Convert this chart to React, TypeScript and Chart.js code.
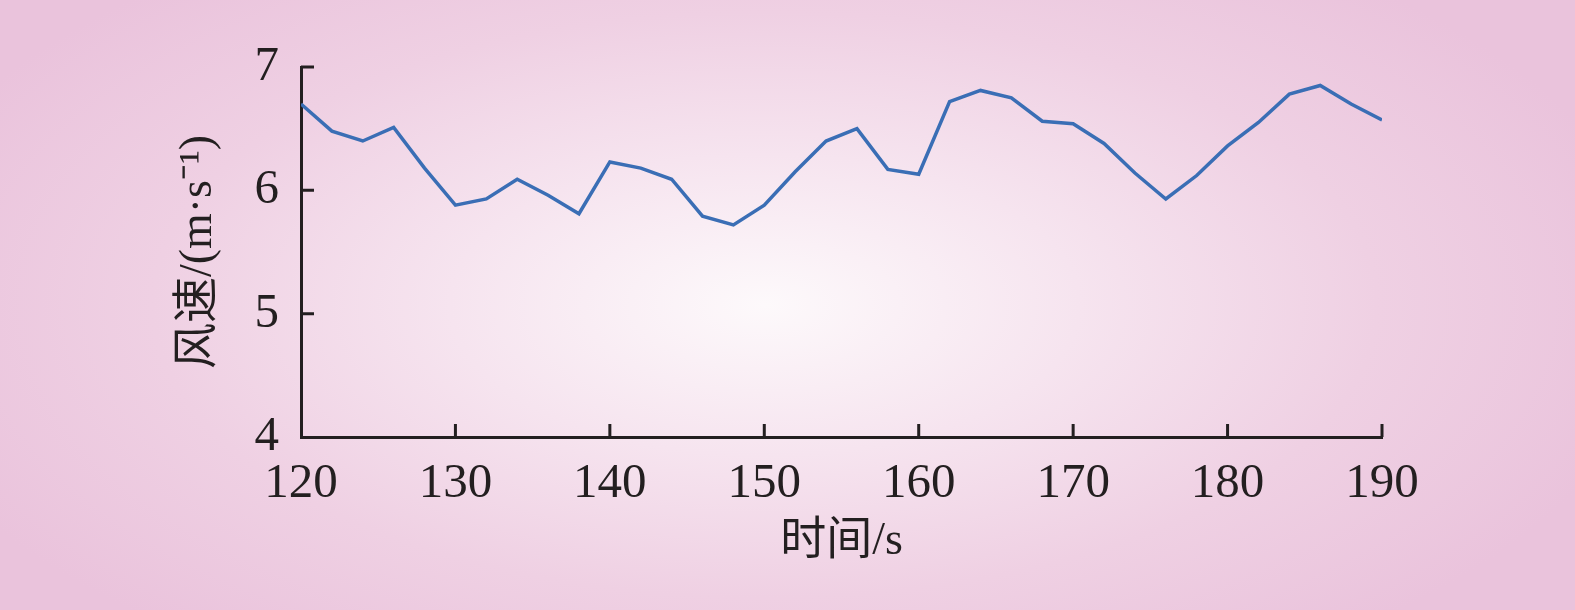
import React, { useEffect, useRef } from "react";
import { Chart, registerables } from "chart.js";

Chart.register(...registerables);

// Time (s)
const times = [
  120, 122, 124, 126, 128, 130, 132, 134, 136, 138, 140, 142,
  144, 146, 148, 150, 152, 154, 156, 158, 160, 162, 164, 166,
  168, 170, 172, 174, 176, 178, 180, 182, 184, 186, 188, 190,
];

// Wind speed (m·s⁻¹)
const windSpeed = [
  6.70, 6.48, 6.40, 6.51, 6.18, 5.88, 5.93, 6.09, 5.96, 5.81, 6.23, 6.18,
  6.09, 5.79, 5.72, 5.88, 6.15, 6.40, 6.50, 6.17, 6.13, 6.72, 6.81, 6.75,
  6.56, 6.54, 6.38, 6.14, 5.93, 6.12, 6.36, 6.55, 6.78, 6.85, 6.70, 6.57,
];

const xTicks = [120, 130, 140, 150, 160, 170, 180, 190];
const yTicks = [4, 5, 6, 7];

const xTitle = "时间/s";
const yTitle = "风速/(m·s⁻¹)";

const AXIS_COLOR = "#231f20";
const LINE_COLOR = "#3a6eb5";
const TICK_FONT = { family: "'Liberation Serif', 'Times New Roman', serif", size: 49 };
const TITLE_FONT = { family: "'Liberation Serif', 'Noto Sans CJK SC', serif", size: 46 };

const inwardTicks = {
  id: "inwardTicks",
  afterDraw(chart: any) {
    const { ctx, chartArea, scales } = chart;
    const x = scales.x;
    const y = scales.y;
    ctx.save();
    ctx.strokeStyle = AXIS_COLOR;
    ctx.lineWidth = 3;
    ctx.beginPath();
    yTicks.forEach((v) => {
      if (v === yTicks[0]) return;
      const py = y.getPixelForValue(v);
      ctx.moveTo(chartArea.left, py);
      ctx.lineTo(chartArea.left + 13, py);
    });
    xTicks.forEach((v) => {
      if (v === xTicks[0]) return;
      const px = x.getPixelForValue(v);
      ctx.moveTo(px, chartArea.bottom);
      ctx.lineTo(px, chartArea.bottom - 13);
    });
    ctx.stroke();
    ctx.restore();
  },
};

export default function App() {
  const canvasRef = useRef<HTMLCanvasElement | null>(null);

  useEffect(() => {
    if (!canvasRef.current) return;
    const chart = new Chart(canvasRef.current, {
      type: "line",
      data: {
        datasets: [
          {
            data: times.map((t, i) => ({ x: t, y: windSpeed[i] })),
            borderColor: LINE_COLOR,
            borderWidth: 3.5,
            pointRadius: 0,
            tension: 0,
            fill: false,
          },
        ],
      },
      options: {
        animation: false,
        responsive: false,
        devicePixelRatio: 1,
        layout: { padding: { top: 67, right: 193, left: 0, bottom: 0 } },
        plugins: {
          legend: { display: false },
          tooltip: { enabled: false },
        },
        scales: {
          x: {
            type: "linear",
            min: 120,
            max: 190,
            afterBuildTicks: (s: any) => {
              s.ticks = xTicks.map((v) => ({ value: v }));
            },
            afterFit: (s: any) => {
              s.height = 173;
            },
            ticks: {
              font: TICK_FONT,
              color: AXIS_COLOR,
              padding: 18,
              maxRotation: 0,
              autoSkip: false,
            },
            grid: { display: false, drawTicks: false },
            border: { display: true, color: AXIS_COLOR, width: 3 },
            title: {
              display: true,
              text: xTitle,
              font: TITLE_FONT,
              color: AXIS_COLOR,
              padding: { top: 0, bottom: 40 },
            },
          },
          y: {
            type: "linear",
            min: 4,
            max: 7,
            afterBuildTicks: (s: any) => {
              s.ticks = yTicks.map((v) => ({ value: v }));
            },
            afterFit: (s: any) => {
              s.width = 301;
            },
            ticks: {
              font: TICK_FONT,
              color: AXIS_COLOR,
              padding: 22,
            },
            grid: { display: false, drawTicks: false },
            border: { display: true, color: AXIS_COLOR, width: 3 },
            title: {
              display: true,
              text: yTitle,
              font: TITLE_FONT,
              color: AXIS_COLOR,
              padding: { top: 171, bottom: 0 },
            },
          },
        },
      },
      plugins: [inwardTicks],
    } as any);
    return () => chart.destroy();
  }, []);

  return (
    <div
      style={{
        position: "fixed",
        left: 0,
        top: 0,
        width: 1575,
        height: 610,
        background:
          "radial-gradient(ellipse 900px 430px at 765px 305px, #fdf9fb 0%, #f6e4ef 35%, #efd0e3 68%, #eac3dc 100%)",
      }}
    >
      <canvas ref={canvasRef} width={1575} height={610} style={{ display: "block" }} />
    </div>
  );
}
